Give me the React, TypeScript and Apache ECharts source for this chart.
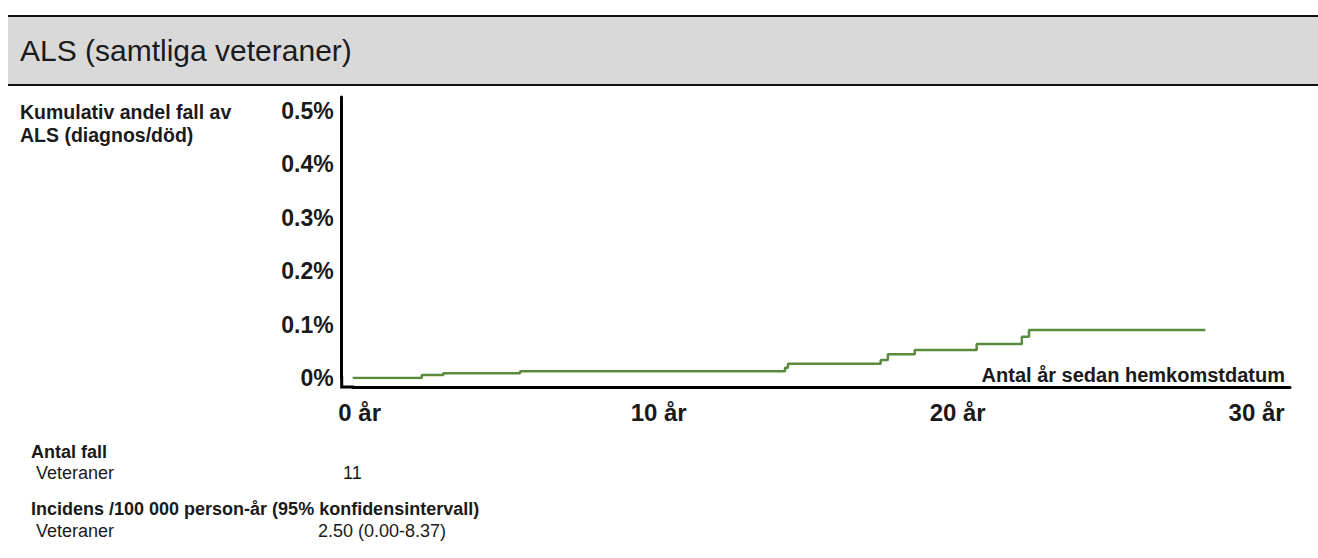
import React, { useEffect, useRef } from "react";
import * as echarts from "echarts";

// Kaplan-Meier style cumulative proportion (in %), years since homecoming
const eventYears = [0, 2.31, 3.03, 5.6, 14.46, 14.56, 17.66, 17.9, 18.8, 20.87, 22.38, 22.62, 28.52];
const cumulativePct = [0, 0.0056, 0.0088, 0.0127, 0.019, 0.0268, 0.0337, 0.0444, 0.0524, 0.0637, 0.0773, 0.0899, 0.0899];

const titleText = "ALS (samtliga veteraner)";
const yAxisTitle = "Kumulativ andel fall av\nALS (diagnos/död)";
const xAxisTitle = "Antal år sedan hemkomstdatum";
const casesHeader = "Antal fall";
const groupLabel = "Veteraner";
const casesValue = "11";
const incidenceHeader = "Incidens /100 000 person-år (95% konfidensintervall)";
const incidenceValue = "2.50 (0.00-8.37)";

const FONT = "'Liberation Sans', Arial, Helvetica, sans-serif";
const TXT = "#1a1a1a";

export default function App() {
  const ref = useRef<HTMLDivElement>(null);
  useEffect(() => {
    if (!ref.current) return;
    const chart = echarts.init(ref.current, undefined, { renderer: "svg" });
    const data = eventYears.map((x, i) => [x, cumulativePct[i]]);
    chart.setOption({
      animation: false,
      backgroundColor: "#ffffff",
      grid: { left: 352.7, right: 28, top: 97, bottom: 558 - 378, containLabel: false },
      xAxis: {
        type: "value",
        min: 0,
        max: 31.35,
        interval: 10,
        offset: 9,
        axisLine: { show: true, onZero: false, lineStyle: { color: "#000", width: 3 } },
        axisTick: { show: false },
        splitLine: { show: false },
        axisLabel: {
          margin: 13,
          showMaxLabel: false,
          fontFamily: FONT,
          fontWeight: "bold",
          fontSize: 24,
          color: TXT,
          padding: [0, 0, 0, 14],
          formatter: (v: number) => (Math.abs(v % 10) < 1e-6 ? `${v} år` : ""),
        },
      },
      yAxis: {
        type: "value",
        min: 0,
        max: 0.526,
        interval: 0.1,
        offset: 11,
        axisLine: { show: true, onZero: false, lineStyle: { color: "#000", width: 3 } },
        axisTick: { show: false },
        splitLine: { show: false },
        axisLabel: {
          margin: 8,
          showMaxLabel: false,
          fontFamily: FONT,
          fontWeight: "bold",
          fontSize: 23,
          color: TXT,
          formatter: (v: number) => {
            const k = v * 10;
            if (Math.abs(k - Math.round(k)) > 1e-6) return "";
            return Math.round(k) === 0 ? "0%" : `${(Math.round(k) / 10).toFixed(1)}%`;
          },
        },
      },
      series: [
        {
          type: "line",
          step: "end",
          data,
          showSymbol: false,
          lineStyle: { color: "#5a8a3c", width: 2.5 },
        },
      ],
      graphic: [
        { type: "rect", shape: { x: 8, y: 16, width: 1310, height: 69 }, style: { fill: "#d9d9d9" }, z: 0 },
        { type: "line", shape: { x1: 8, y1: 16, x2: 1318, y2: 16 }, style: { stroke: "#111", lineWidth: 2 } },
        { type: "line", shape: { x1: 8, y1: 85, x2: 1318, y2: 85 }, style: { stroke: "#111", lineWidth: 2 } },
        {
          type: "text",
          x: 20,
          y: 50,
          style: { text: titleText, font: `30px ${FONT}`, fill: TXT, verticalAlign: "middle" },
        },
        {
          type: "text",
          x: 20,
          y: 100,
          style: { text: yAxisTitle, font: `bold 19.5px ${FONT}`, fill: TXT, lineHeight: 23, verticalAlign: "top" },
        },
        {
          type: "text",
          x: 1285,
          y: 375,
          style: { text: xAxisTitle, font: `bold 20px ${FONT}`, fill: TXT, align: "right", verticalAlign: "middle" },
        },
        {
          type: "polyline",
          shape: { points: [[341.7, 376], [341.7, 387], [354, 387]] },
          style: { stroke: "#000", lineWidth: 3, fill: null },
        },
        {
          type: "text",
          x: 31,
          y: 452,
          style: { text: casesHeader, font: `bold 18px ${FONT}`, fill: TXT, verticalAlign: "middle" },
        },
        {
          type: "text",
          x: 36,
          y: 473,
          style: { text: groupLabel, font: `18px ${FONT}`, fill: TXT, verticalAlign: "middle" },
        },
        {
          type: "text",
          x: 343,
          y: 473,
          style: { text: casesValue, font: `18px ${FONT}`, fill: TXT, verticalAlign: "middle" },
        },
        {
          type: "text",
          x: 31,
          y: 509,
          style: { text: incidenceHeader, font: `bold 18px ${FONT}`, fill: TXT, verticalAlign: "middle" },
        },
        {
          type: "text",
          x: 36,
          y: 531,
          style: { text: groupLabel, font: `18px ${FONT}`, fill: TXT, verticalAlign: "middle" },
        },
        {
          type: "text",
          x: 318,
          y: 531,
          style: { text: incidenceValue, font: `18px ${FONT}`, fill: TXT, verticalAlign: "middle" },
        },
      ],
    });
    return () => chart.dispose();
  }, []);
  return (
    <div
      ref={ref}
      style={{ position: "fixed", left: 0, top: 0, width: 1318, height: 558, background: "#fff" }}
    />
  );
}
